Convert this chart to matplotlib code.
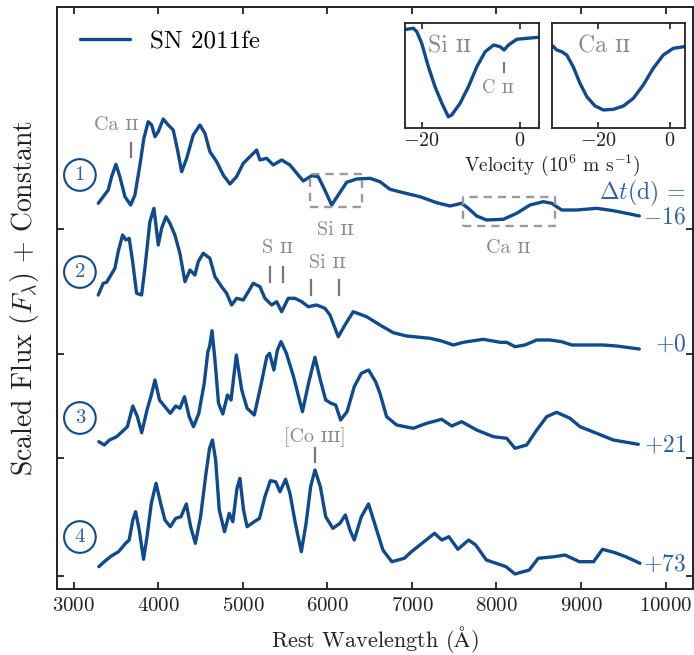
import matplotlib
matplotlib.use("Agg")
import matplotlib.pyplot as plt
import numpy as np

plt.rcParams['font.family'] = ['cmr10', 'DejaVu Serif']
plt.rcParams['mathtext.fontset'] = 'cm'
plt.rcParams['axes.unicode_minus'] = False
plt.rcParams['axes.formatter.use_mathtext'] = True

BLUE = '#0f4a8f'
TBLUE = '#2d62a8'
GRAY = '#8a8a8a'

# ---------------- data ----------------
wl1 = [3288, 3347, 3406, 3446, 3497, 3544, 3604, 3671, 3722, 3781, 3828, 3879, 3920, 3959, 3998, 4057,
       4116, 4175, 4222, 4275, 4334, 4412, 4491, 4550, 4609, 4689, 4767, 4846, 4925, 5004, 5083, 5162,
       5201, 5280, 5359, 5458, 5556, 5654, 5714, 5813, 5891, 5950, 6050, 6128, 6227, 6346, 6503, 6621,
       6740, 6897, 7095, 7292, 7450, 7588, 7666, 7766, 7884, 8080, 8239, 8396, 8554, 8653, 8771, 8949,
       9186, 9382, 9580, 9690]
fl1 = [0.257, 0.323, 0.39, 0.523, 0.647, 0.523, 0.323, 0.24, 0.34, 0.64, 0.907, 1.073, 1.04, 0.923, 0.973, 1.10,
       1.04, 0.99, 0.807, 0.573, 0.707, 0.94, 1.04, 0.957, 0.773, 0.673, 0.54, 0.45, 0.523, 0.657, 0.723, 0.79,
       0.69, 0.707, 0.64, 0.69, 0.64, 0.54, 0.48, 0.533, 0.523, 0.423, 0.24, 0.34, 0.467, 0.50, 0.507, 0.473,
       0.397, 0.363, 0.323, 0.263, 0.23, 0.257, 0.207, 0.13, 0.09, 0.097, 0.157, 0.24, 0.273, 0.257, 0.19, 0.19,
       0.207, 0.183, 0.15, 0.13]

wl2 = [3288, 3347, 3387, 3426, 3485, 3524, 3576, 3615, 3654, 3695, 3742, 3801, 3840, 3899, 3947, 3998,
       4038, 4089, 4136, 4195, 4254, 4314, 4373, 4432, 4471, 4530, 4609, 4669, 4748, 4807, 4866, 4925,
       5004, 5063, 5122, 5201, 5260, 5340, 5399, 5458, 5536, 5615, 5695, 5773, 5872, 5970, 6030, 6128,
       6207, 6305, 6463, 6621, 6779, 6936, 7213, 7351, 7489, 7607, 7844, 8041, 8120, 8219, 8337, 8476,
       8633, 8771, 8890, 9067, 9264, 9422, 9690]
fl2 = [0.59, 0.707, 0.717, 0.773, 0.857, 1.023, 1.19, 1.14, 1.157, 0.923, 0.607, 0.59, 0.857, 1.323, 1.457, 1.09,
       1.257, 1.373, 1.307, 1.19, 1.007, 0.723, 0.84, 0.79, 0.923, 1.007, 0.957, 0.773, 0.673, 0.607, 0.49, 0.557,
       0.54, 0.623, 0.707, 0.673, 0.557, 0.49, 0.523, 0.423, 0.557, 0.557, 0.523, 0.473, 0.49, 0.457, 0.39, 0.173,
       0.29, 0.423, 0.373, 0.29, 0.213, 0.18, 0.157, 0.13, 0.09, 0.117, 0.147, 0.117, 0.117, 0.073, 0.09, 0.14,
       0.14, 0.123, 0.09, 0.09, 0.09, 0.08, 0.05]

wl3 = [3295, 3359, 3421, 3506, 3591, 3633, 3697, 3751, 3802, 3865, 3916, 3959, 4013, 4077, 4141, 4204,
       4254, 4309, 4364, 4415, 4478, 4542, 4585, 4605, 4634, 4669, 4711, 4762, 4817, 4859, 4922, 4986,
       5049, 5134, 5209, 5282, 5315, 5366, 5408, 5451, 5514, 5599, 5704, 5776, 5852, 5916, 5979, 6043,
       6097, 6156, 6232, 6317, 6401, 6486, 6570, 6621, 6700, 6819, 7015, 7174, 7351, 7470, 7588, 7766,
       7962, 8121, 8219, 8357, 8476, 8594, 8712, 8870, 8988, 9186, 9382, 9678]
fl3 = [0.163, 0.13, 0.18, 0.213, 0.28, 0.313, 0.52, 0.413, 0.253, 0.48, 0.63, 0.78, 0.58, 0.513, 0.447, 0.52,
       0.497, 0.613, 0.413, 0.313, 0.447, 0.747, 1.063, 1.113, 1.273, 0.98, 0.547, 0.44, 0.63, 0.58, 1.03, 0.68,
       0.497, 0.43, 0.713, 1.013, 1.047, 0.88, 1.08, 1.163, 1.047, 0.813, 0.463, 0.747, 1.007, 0.78, 0.58, 0.547,
       0.53, 0.38, 0.463, 0.713, 0.847, 0.88, 0.763, 0.647, 0.413, 0.33, 0.297, 0.347, 0.387, 0.32, 0.363, 0.28,
       0.213, 0.197, 0.097, 0.13, 0.28, 0.413, 0.457, 0.397, 0.313, 0.247, 0.18, 0.137]

wl4 = [3295, 3359, 3443, 3528, 3612, 3654, 3697, 3730, 3773, 3824, 3865, 3916, 3972, 4026, 4077, 4141,
       4204, 4267, 4330, 4381, 4437, 4499, 4563, 4605, 4639, 4677, 4720, 4782, 4838, 4880, 4930, 4964,
       5007, 5049, 5134, 5196, 5260, 5324, 5387, 5438, 5505, 5556, 5620, 5691, 5747, 5801, 5852, 5916,
       5979, 6064, 6148, 6212, 6266, 6317, 6401, 6486, 6570, 6656, 6761, 6909, 6993, 7119, 7267, 7353,
       7437, 7543, 7670, 7754, 7880, 8113, 8219, 8388, 8493, 8684, 8811, 8980, 9149, 9254, 9402, 9529, 9698]
fl4 = [0.093, 0.143, 0.20, 0.243, 0.327, 0.36, 0.56, 0.643, 0.46, 0.167, 0.393, 0.727, 0.927, 0.727, 0.56, 0.493,
       0.577, 0.593, 0.72, 0.493, 0.327, 0.593, 1.027, 1.277, 1.36, 1.16, 0.66, 0.443, 0.627, 0.543, 0.877, 0.977,
       0.66, 0.493, 0.543, 0.577, 0.793, 0.953, 0.943, 0.843, 0.967, 0.827, 0.527, 0.243, 0.527, 0.893, 1.06, 0.893,
       0.593, 0.477, 0.527, 0.61, 0.46, 0.36, 0.593, 0.72, 0.493, 0.26, 0.143, 0.177, 0.243, 0.327, 0.427, 0.36,
       0.393, 0.267, 0.36, 0.31, 0.16, 0.093, 0.02, 0.06, 0.177, 0.193, 0.21, 0.143, 0.143, 0.267, 0.233, 0.193, 0.127]

offsets = [3.60, 2.35, 1.31, 0.13]
epoch_labels = ['$-16$', '$+0$', '$+21$', '$+73$']
circle_labels = ['1', '2', '3', '4']

# inset velocity profiles (10^6 m/s, normalised flux)
vel_si = [-23.05, -21.7, -21.0, -20.0, -18.65, -17.3, -15.9, -14.6, -13.9, -12.2, -10.5, -8.8, -7.1, -5.4,
          -4.07, -3.26, -2.37, -0.67, 1.36, 3.73]
flx_si = [0.943, 0.952, 0.92, 0.808, 0.584, 0.393, 0.234, 0.105, 0.122, 0.234, 0.393, 0.584, 0.728, 0.792,
          0.776, 0.744, 0.792, 0.847, 0.856, 0.866]
vel_ca = [-32.5, -31.6, -30.2, -28.8, -27.0, -25.1, -23.2, -20.9, -18.6, -15.8, -13.0, -10.2, -7.45, -4.66,
          -1.87, 0.92, 3.9]
flx_ca = [0.776, 0.744, 0.728, 0.696, 0.584, 0.425, 0.297, 0.208, 0.17, 0.176, 0.208, 0.282, 0.409, 0.569,
          0.696, 0.76, 0.776]

xticks = [3000, 4000, 5000, 6000, 7000, 8000, 9000, 10000]

# ---------------- figure ----------------
fig = plt.figure(figsize=(6.94, 6.55), dpi=100)
ax = fig.add_axes([57/694, (655-589)/655, (693-57)/694, (589-7)/655])

spectra = [(wl1, fl1), (wl2, fl2), (wl3, fl3), (wl4, fl4)]
for i, (w, f) in enumerate(spectra):
    y = np.array(f) + offsets[i]
    ax.plot(w, y, color=BLUE, lw=2.4, solid_joinstyle='round', solid_capstyle='round',
            label='SN 2011fe' if i == 0 else None)

ax.set_xlim(2800, 10325)
ax.set_ylim(0, 5.82)
ax.set_xticks(xticks)
ax.set_yticks(offsets)
ax.set_yticklabels([])
ax.tick_params(direction='in', top=True, right=True, length=5, width=1.3, labelsize=15, colors='#222222')
ax.tick_params(axis='x', pad=6)
for s in ax.spines.values():
    s.set_linewidth(1.4)
    s.set_color('#222222')
ax.set_xlabel(r'Rest Wavelength ($\mathrm{\AA}$)', fontsize=16, color='#222222', labelpad=6)
ax.set_ylabel(r'Scaled Flux ($F_\lambda$) + Constant', fontsize=20, color='#222222', labelpad=8)

leg = ax.legend(loc='upper left', bbox_to_anchor=(0.0, 0.998), frameon=False, fontsize=18,
                handlelength=2.0, handletextpad=0.8)

# circled numbers
circ_y = [4.14, 3.17, 1.71, 0.52]
for lab, yy in zip(circle_labels, circ_y):
    ax.text(3071, yy, lab, ha='center', va='center', fontsize=15, color=TBLUE,
            bbox=dict(boxstyle='circle,pad=0.33', fc='white', ec=BLUE, lw=1.5))

# epoch labels
ax.text(10242, 3.96, r'$\Delta t$(d) =', ha='right', va='center', fontsize=17, color=TBLUE)
lab_y = [3.72, 2.44, 1.43, 0.24]
for lab, yy in zip(epoch_labels, lab_y):
    ax.text(10242, yy, lab, ha='right', va='center', fontsize=17, color=TBLUE)

# line identifications
def ident(x, y, s):
    ax.text(x, y, s, ha='center', va='center', fontsize=14.5, color=GRAY)

def tickmark(x, y0, y1):
    ax.plot([x, x], [y0, y1], color='#777777', lw=1.6)

ident(3497, 4.64, 'Ca ɪɪ')
tickmark(3670, 4.32, 4.46)
ident(6088, 3.59, 'Si ɪɪ')
ident(8137, 3.41, 'Ca ɪɪ')
ident(5414, 3.41, 'S ɪɪ')
tickmark(5320, 3.067, 3.223)
tickmark(5470, 3.067, 3.223)
ident(5993, 3.26, 'Si ɪɪ')
tickmark(5800, 2.94, 3.09)
tickmark(6140, 2.94, 3.09)
ident(5852, 1.523, '[Co ɪɪɪ]')
tickmark(5852, 1.27, 1.41)

# dashed boxes
for (x0, x1, y0, y1) in [(5793, 6405, 3.823, 4.147), (7600, 8692, 3.63, 3.923)]:
    ax.plot([x0, x1, x1, x0, x0], [y0, y0, y1, y1, y0], color='#9a9a9a', lw=1.7, ls=(0, (3.5, 2.5)))

# ---------------- insets ----------------
ins1 = fig.add_axes([405/694, (655-127.7)/655, 134.3/694, 104.4/655])
ins2 = fig.add_axes([551.7/694, (655-127.7)/655, 133.3/694, 104.4/655])
ins1.plot(vel_si, flx_si, color=BLUE, lw=2.4, solid_joinstyle='round')
ins2.plot(vel_ca, flx_ca, color=BLUE, lw=2.4, solid_joinstyle='round')
ins1.set_xlim(-23.4, 3.9)
ins2.set_xlim(-33.0, 4.2)
for a in (ins1, ins2):
    a.set_ylim(0, 1)
    a.set_yticks([])
    a.set_xticks([-20, 0])
    a.tick_params(direction='in', top=True, length=4, width=1.2, labelsize=14.5, colors='#222222', pad=3)
    for s in a.spines.values():
        s.set_linewidth(1.3)
        s.set_color('#222222')
ins1.text(0.17, 0.78, 'Si ɪɪ', transform=ins1.transAxes, fontsize=17, color=GRAY, ha='left', va='center')
ins1.text(0.57, 0.38, 'C ɪɪ', transform=ins1.transAxes, fontsize=13.5, color=GRAY, ha='left', va='center')
ins1.plot([-3.3, -3.3], [0.53, 0.62], color='#777777', lw=1.5)
ins2.text(0.2, 0.78, 'Ca ɪɪ', transform=ins2.transAxes, fontsize=17, color=GRAY, ha='left', va='center')
fig.text(552/694, 1 - 165/655, r'Velocity (10$^6$ m s$^{-1}$)', ha='center', va='center',
         fontsize=14, color='#222222')

fig.savefig('out.png', dpi=100)
